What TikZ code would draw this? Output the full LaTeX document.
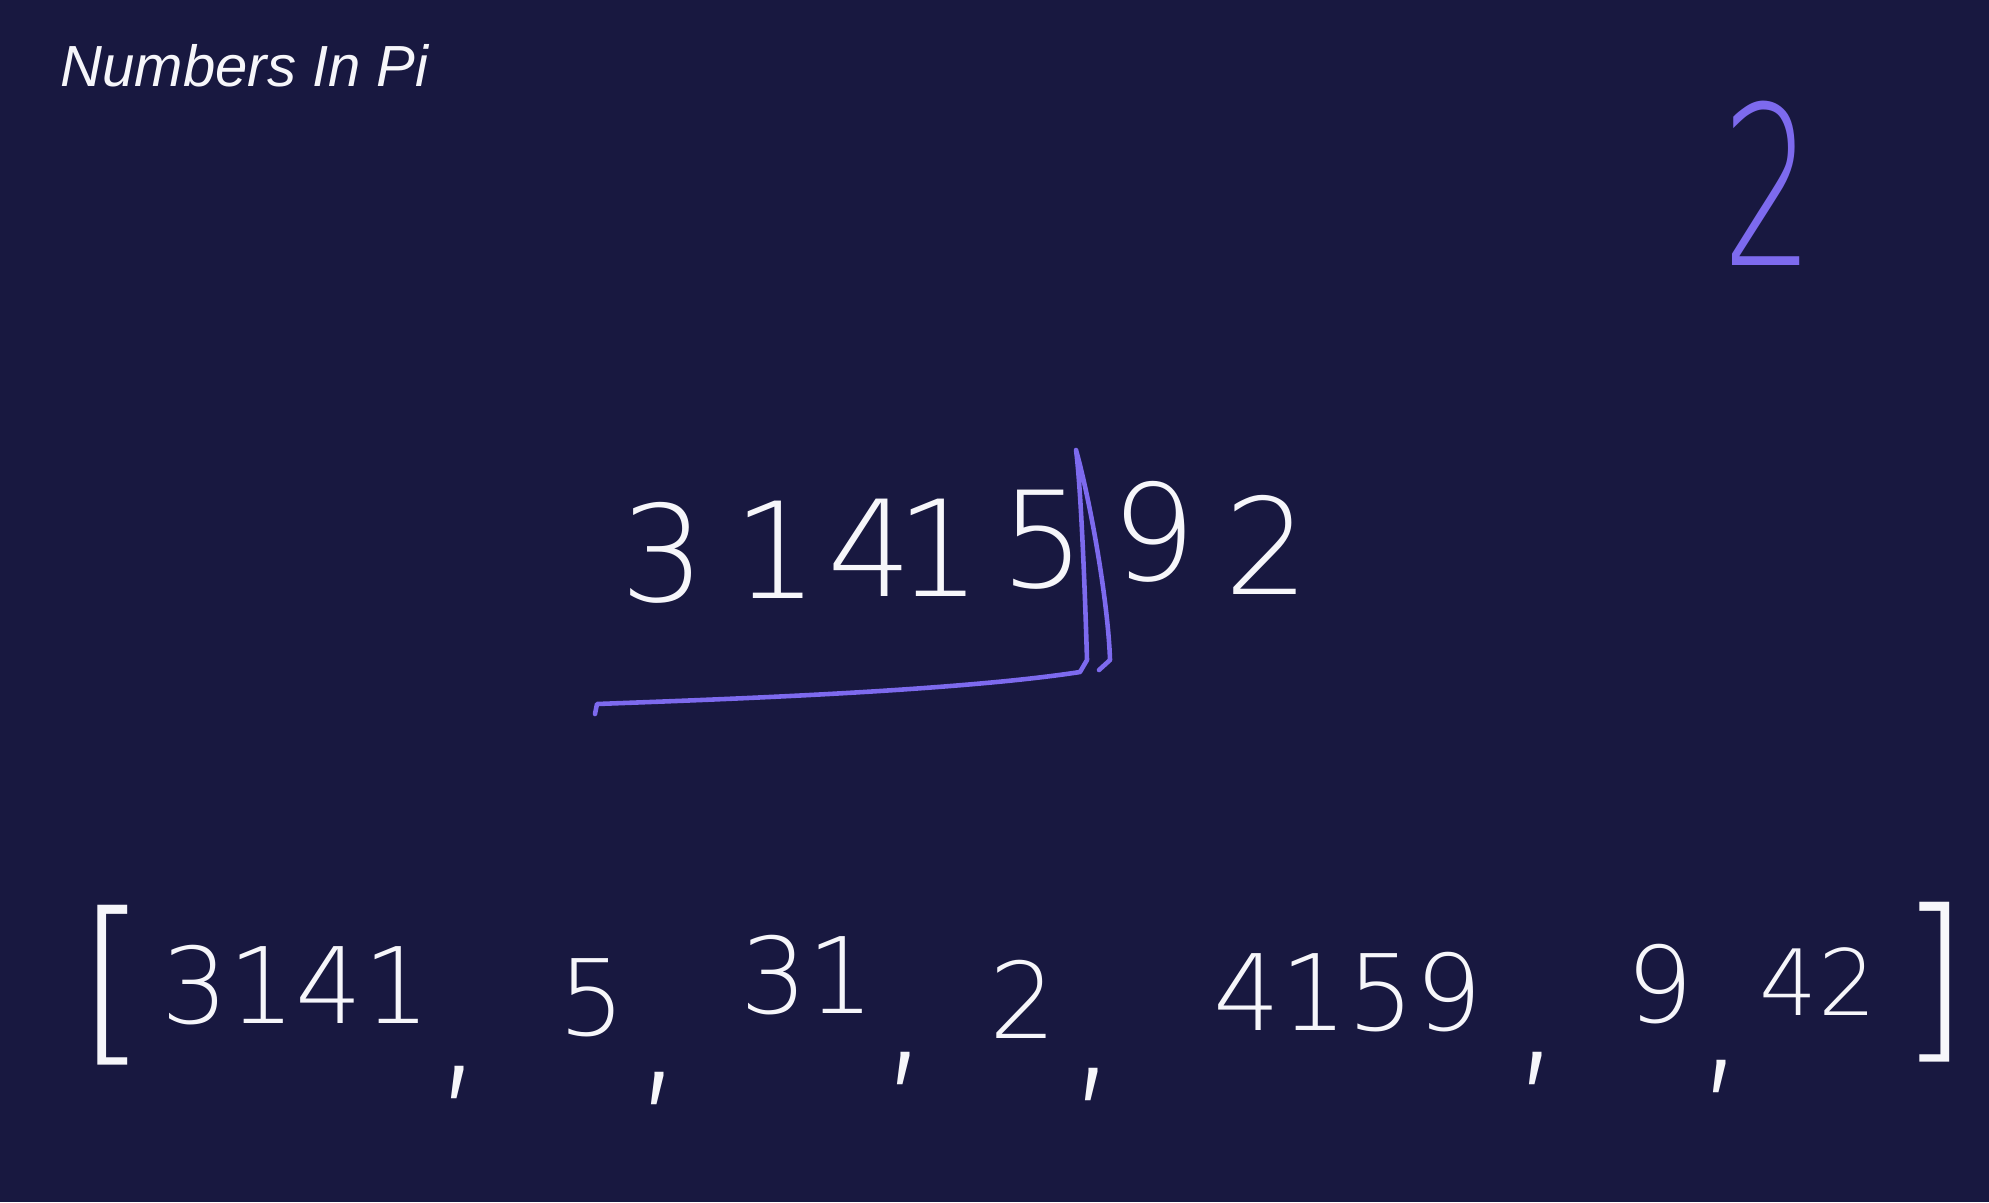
\documentclass[tikz,border=0pt]{standalone}
\usepackage{fontspec}
\newfontfamily\hand{DejaVu Sans ExtraLight}
\newfontfamily\titlefont{Liberation Sans}
\definecolor{board}{RGB}{24,24,64}
\definecolor{chalk}{RGB}{246,246,250}
\definecolor{pen}{RGB}{125,106,238}

\begin{document}
\begin{tikzpicture}[x=0.01cm, y=-0.01cm,
  digit/.style={text=chalk, inner sep=0pt, font=\hand\fontsize{38pt}{40pt}\selectfont},
  item/.style={text=chalk, inner sep=0pt, font=\hand\fontsize{30pt}{32pt}\selectfont},
  comma/.style={text=chalk, inner sep=0pt, font=\hand\fontsize{52pt}{54pt}\selectfont},
  brack/.style={text=chalk, inner sep=0pt, font=\hand\fontsize{51pt}{53pt}\selectfont},
  penline/.style={draw=pen, line width=1.3pt, line cap=round, line join=round}
]
  \fill[board] (0,0) rectangle (1989,1202);

  \node[anchor=base west, text=chalk, inner sep=0pt,
        font=\titlefont\itshape\fontsize{16.5pt}{20pt}\selectfont] (title) at (60,86) {Numbers In Pi};

  \node[text=pen, inner sep=0pt, xscale=0.65, transform shape,
        font=\hand\fontsize{63pt}{65pt}\selectfont] (count) at (1768,183) {2};

  \node[digit] (d1) at (663,553)  {3};
  \node[digit] (d2) at (776,550)  {1};
  \node[digit] (d3) at (870,548)  {4};
  \node[digit] (d4) at (939,548)  {1};
  \node[digit] (d5) at (1043,540) {5};
  \node[digit] (d6) at (1154,532) {9};
  \node[digit] (d7) at (1267,545) {2};

  \draw[penline] (595,714) -- (597,704) .. controls (700,700) and (950,692) .. (1080,672)
    -- (1087,660) .. controls (1084,560) and (1080,480) .. (1076,450)
    .. controls (1090,500) and (1108,600) .. (1110,660) -- (1099,670);

  \node[brack] (open)  at (112,985)  {[};
  \node[item]  (i1) at (296,985)  {3141};
  \node[comma] (c1) at (460,1082) {,};
  \node[item]  (i2) at (592,998) {5};
  \node[comma] (c2) at (660,1088) {,};
  \node[item]  (i3) at (808,975)  {31};
  \node[comma] (c3) at (906,1068) {,};
  \node[item]  (i4) at (1023,999) {2};
  \node[comma] (c4) at (1094,1084) {,};
  \node[item]  (i5) at (1348,992) {4159};
  \node[comma] (c5) at (1538,1068) {,};
  \node[item]  (i6) at (1660,984) {9};
  \node[comma] (c6) at (1722,1076) {,};
  \node[item, font=\hand\fontsize{26pt}{28pt}\selectfont] (i7) at (1818,982) {42};
  \node[brack] (close) at (1934,982) {]};
\end{tikzpicture}
\end{document}
